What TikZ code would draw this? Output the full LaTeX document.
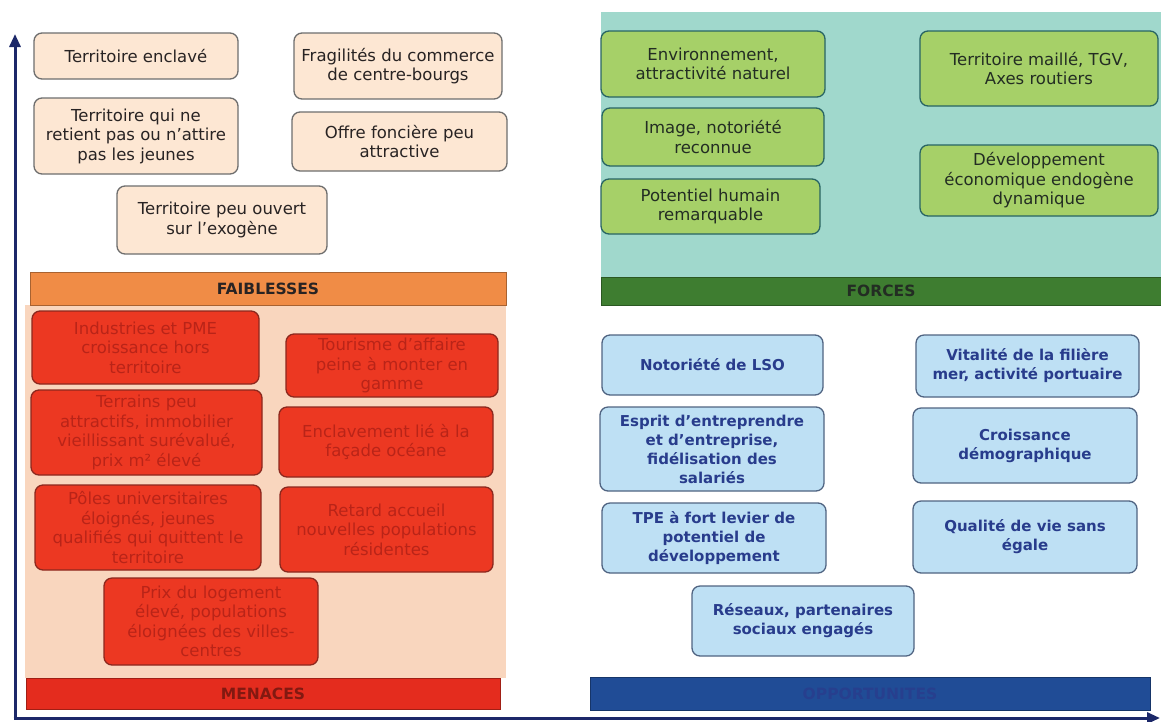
\documentclass[tikz,border=0pt]{standalone}
\usepackage{fontspec}
\setmainfont{DejaVu Sans}
\usetikzlibrary{arrows.meta}

\begin{document}
\begin{tikzpicture}[x=1pt,y=-1pt,
  box/.style={rounded corners=8pt, line width=1.3pt, align=center, inner sep=2pt,
    font=\fontsize{16.5}{19.5}\selectfont},
  weakbox/.style={box, draw=weakLine, fill=weakFill, text=weakText},
  threatbox/.style={box, draw=threatLine, fill=threatFill, text=threatText},
  forcebox/.style={box, draw=forceLine, fill=forceFill, text=forceText},
  chancebox/.style={box, draw=chanceLine, fill=chanceFill, text=chanceText,
    font=\fontsize{15}{19}\selectfont\bfseries},
  bar/.style={draw=#1!70!black, fill=#1, line width=0.8pt, inner sep=0pt,
    font=\fontsize{15.5}{18}\selectfont\bfseries},
  axis/.style={draw=axisColor, line width=3pt, -{Triangle[length=13pt,width=11pt]}}]
\definecolor{weakFill}{RGB}{253,231,211}
\definecolor{weakLine}{RGB}{110,110,110}
\definecolor{weakText}{RGB}{40,35,35}
\definecolor{weakBar}{RGB}{240,140,70}
\definecolor{threatBg}{RGB}{249,214,190}
\definecolor{threatFill}{RGB}{236,56,34}
\definecolor{threatLine}{RGB}{140,40,30}
\definecolor{threatText}{RGB}{185,36,24}
\definecolor{threatBar}{RGB}{228,44,30}
\definecolor{forceBg}{RGB}{160,216,204}
\definecolor{forceFill}{RGB}{166,208,104}
\definecolor{forceLine}{RGB}{40,100,100}
\definecolor{forceText}{RGB}{35,45,35}
\definecolor{forceBar}{RGB}{62,125,48}
\definecolor{chanceFill}{RGB}{190,224,244}
\definecolor{chanceLine}{RGB}{80,100,130}
\definecolor{chanceText}{RGB}{40,60,140}
\definecolor{chanceBar}{RGB}{32,76,150}
\definecolor{axisColor}{RGB}{28,40,105}

\path[use as bounding box,fill=white] (0,0) rectangle (1161,721);

% backgrounds of the two shaded quadrants
\fill[threatBg] (25,305) rectangle (506,678);
\fill[forceBg] (601,12) rectangle (1161,277);

% faiblesses
\node[weakbox, minimum width=204pt, minimum height=46pt] (enclave) at (136,56) {Territoire enclavé};
\node[weakbox, minimum width=208pt, minimum height=66pt] (commerce) at (398,66) {Fragilités du commerce\\de centre-bourgs};
\node[weakbox, minimum width=204pt, minimum height=76pt] (jeunes) at (136,136) {Territoire qui ne\\retient pas ou n'attire\\pas les jeunes};
\node[weakbox, minimum width=215pt, minimum height=59pt] (foncier) at (399.5,141.5) {Offre foncière peu\\attractive};
\node[weakbox, minimum width=210pt, minimum height=68pt] (exogene) at (222,220) {Territoire peu ouvert\\sur l'exogène};
\node[bar=weakBar, minimum width=476pt, minimum height=33pt, text=weakText] (faiblesses) at (268,288.5) {FAIBLESSES};

% menaces
\node[threatbox, minimum width=227pt, minimum height=73pt] (industrie) at (145.5,347.5) {Industries et PME\\croissance hors\\territoire};
\node[threatbox, minimum width=212pt, minimum height=63pt] (tourisme) at (392,365.5) {Tourisme d'affaire\\peine à monter en\\gamme};
\node[threatbox, minimum width=231pt, minimum height=85pt] (terrains) at (146.5,432.5) {Terrains peu\\attractifs, immobilier\\vieillissant surévalué,\\prix m² élevé};
\node[threatbox, minimum width=214pt, minimum height=70pt] (enclavement) at (386,442) {Enclavement lié à la\\façade océane};
\node[threatbox, minimum width=226pt, minimum height=85pt] (poles) at (148,527.5) {Pôles universitaires\\éloignés, jeunes\\qualifiés qui quittent le\\territoire};
\node[threatbox, minimum width=213pt, minimum height=85pt] (retard) at (386.5,529.5) {Retard accueil\\nouvelles populations\\résidentes};
\node[threatbox, minimum width=214pt, minimum height=87pt] (logement) at (211,621.5) {Prix du logement\\élevé, populations\\éloignées des villes-\\centres};
\node[bar=threatBar, minimum width=474pt, minimum height=31pt, text=threatText!70!black] (menaces) at (263,693.5) {MENACES};

% forces
\node[forcebox, minimum width=224pt, minimum height=66pt] (environnement) at (713,64) {Environnement,\\attractivité naturel};
\node[forcebox, minimum width=238pt, minimum height=75pt] (maille) at (1039,68.5) {Territoire maillé, TGV,\\Axes routiers};
\node[forcebox, minimum width=222pt, minimum height=58pt] (image) at (713,137) {Image, notoriété\\reconnue};
\node[forcebox, minimum width=238pt, minimum height=71pt] (endogene) at (1039,180.5) {Développement\\économique endogène\\dynamique};
\node[forcebox, minimum width=219pt, minimum height=55pt] (humain) at (710.5,206.5) {Potentiel humain\\remarquable};
\node[bar=forceBar, minimum width=560pt, minimum height=28pt, text=forceText] (forces) at (881,291) {FORCES};

% opportunites
\node[chancebox, minimum width=221pt, minimum height=60pt] (lso) at (712.5,365) {Notoriété de LSO};
\node[chancebox, minimum width=223pt, minimum height=62pt] (mer) at (1027.5,366) {Vitalité de la filière\\mer, activité portuaire};
\node[chancebox, minimum width=224pt, minimum height=84pt] (esprit) at (712,449) {Esprit d'entreprendre\\et d'entreprise,\\fidélisation des\\salariés};
\node[chancebox, minimum width=224pt, minimum height=75pt] (demographie) at (1025,445.5) {Croissance\\démographique};
\node[chancebox, minimum width=224pt, minimum height=70pt] (tpe) at (714,538) {TPE à fort levier de\\potentiel de\\développement};
\node[chancebox, minimum width=224pt, minimum height=72pt] (qualite) at (1025,537) {Qualité de vie sans\\égale};
\node[chancebox, minimum width=222pt, minimum height=70pt] (reseaux) at (803,621) {Réseaux, partenaires\\sociaux engagés};
\node[bar=chanceBar, minimum width=560pt, minimum height=33pt, text=chanceText!80!chanceBar] (opportunites) at (870,693.5) {OPPORTUNITES};

% axes
\coordinate (origin) at (15,718);
\coordinate (top) at (15,34);
\coordinate (right) at (1160,718);
\draw[axis] (origin) -- (top);
\draw[axis] (13.5,718) -- (right);
\end{tikzpicture}
\end{document}
